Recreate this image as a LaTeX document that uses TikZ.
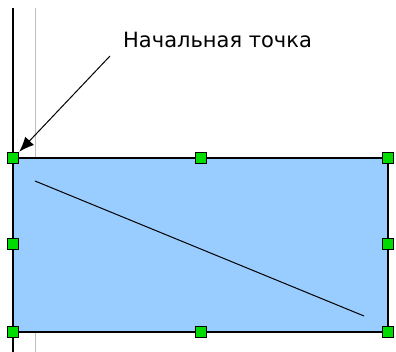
\documentclass[tikz,border=0pt]{standalone}
\usepackage{fontspec}
\setmainfont{DejaVu Sans}
\usepackage{tikz}
\usetikzlibrary{arrows.meta, positioning}
\definecolor{shapeblue}{RGB}{153,204,255}
\definecolor{handlegreen}{RGB}{0,220,0}

\begin{document}
\begin{tikzpicture}[
      x=1pt, y=-1pt,
      handle/.style={draw=black, line width=1.4pt, fill=handlegreen, minimum size=11pt, inner sep=0pt, anchor=center},
      guide/.style={line width=1pt, black!25},
      pointer/.style={-{Latex[length=15pt,width=12pt]}, line width=1pt},
    ]
    \useasboundingbox (0,0) rectangle (396,352);
    % helper lines
    \draw[guide] (35,8) -- (35,352);
    \draw[line width=1.6pt] (13,8) -- (13,352);
    % the shape
    \draw[line width=1.6pt, fill=shapeblue] (13,158) rectangle (388,332);
    \coordinate (lstart) at (35,181);
    \coordinate (lend) at (364,316);
    \draw[line width=1pt] (lstart) -- (lend);
    % selection handles
    \foreach \hx/\hy/\hn in {13/158/nw, 201/158/n, 388/158/ne, 13/244/w,
        388/244/e, 13/332/sw, 201/332/s, 388/332/se}
      \node[handle] (h\hn) at (\hx,\hy) {};
    % label + arrow
    \node[anchor=base west, font=\fontsize{21}{24}\selectfont, inner sep=0pt] (label) at (123,48) {Начальная точка};
    \coordinate (astart) at (110,56);
    \draw[pointer] (astart) -- (hnw.north east);
  \end{tikzpicture}
\end{document}
